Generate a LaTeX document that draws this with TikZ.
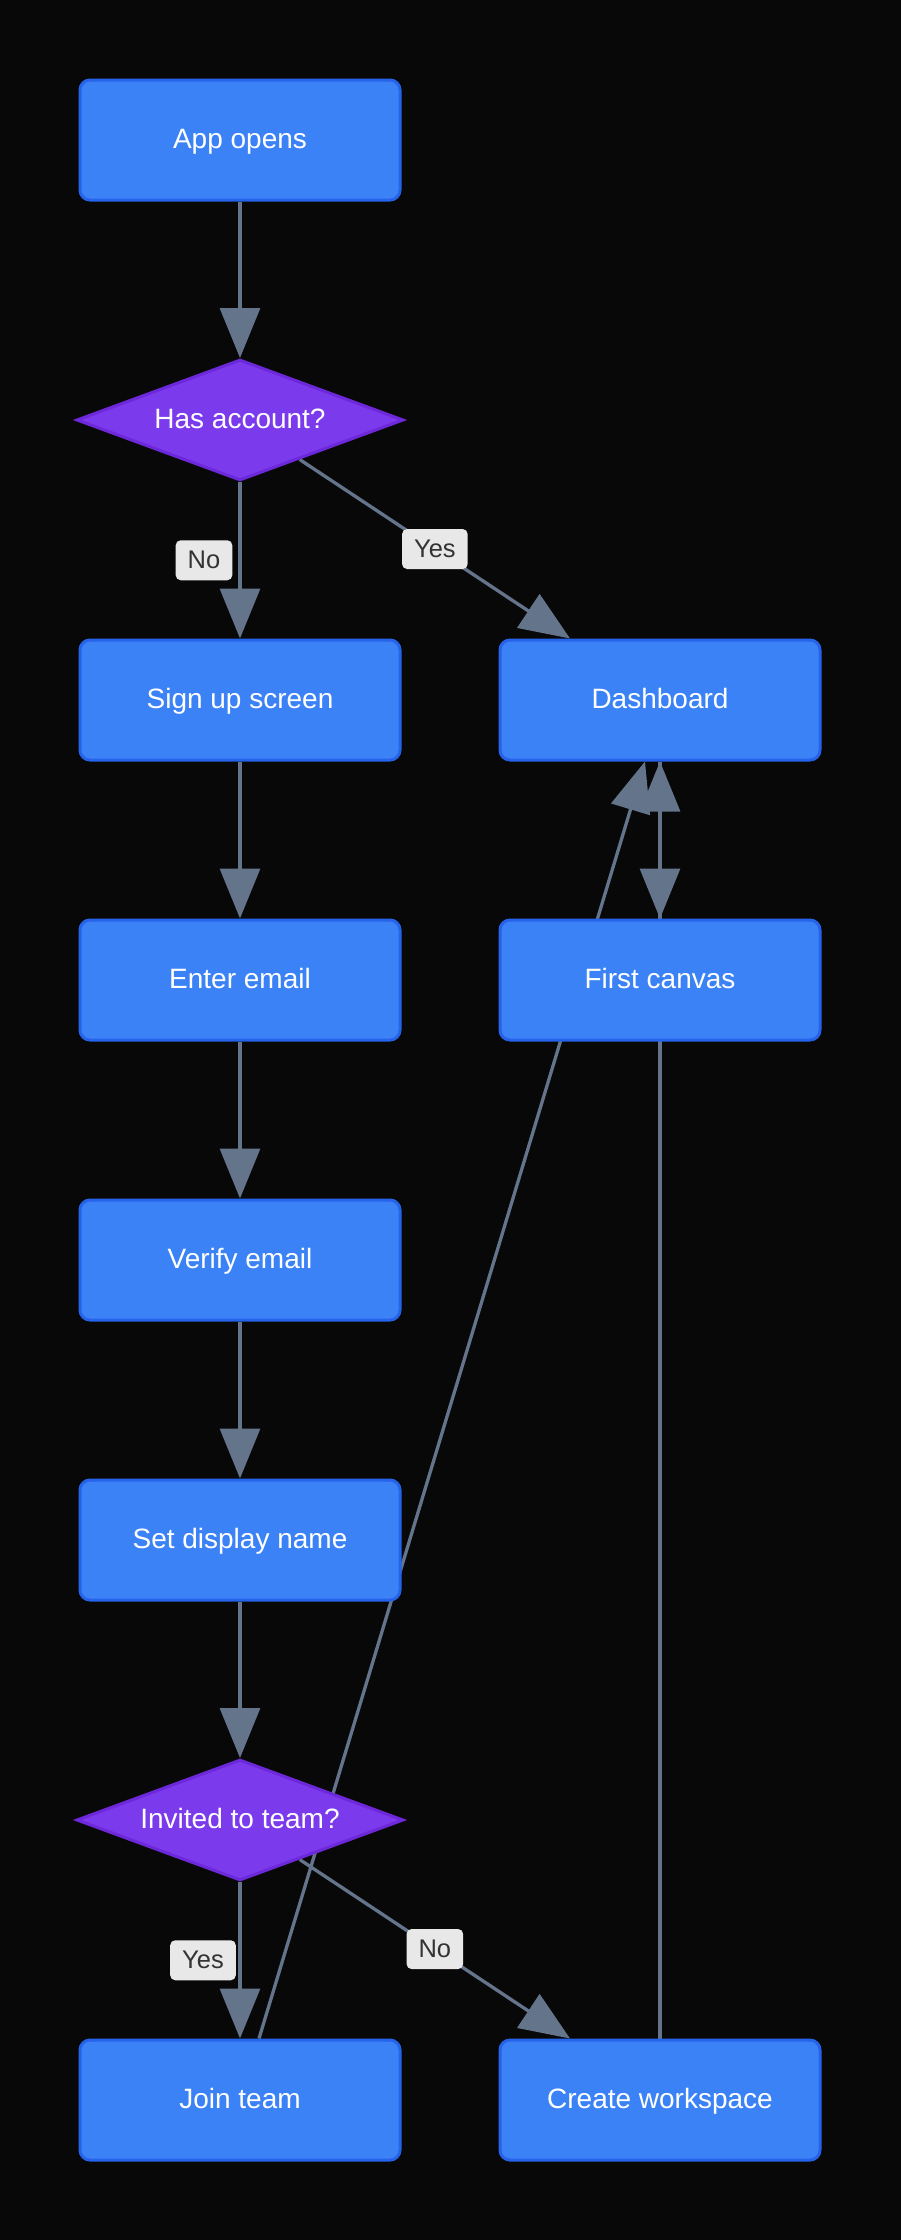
\documentclass[tikz,border=0pt]{standalone}
\usepackage{fontspec}
\setmainfont{Liberation Sans}
\usetikzlibrary{shapes.geometric,arrows.meta,calc,backgrounds}
\definecolor{bg}{HTML}{080808}
\definecolor{boxfill}{HTML}{3B82F6}
\definecolor{boxline}{HTML}{2563EB}
\definecolor{decfill}{HTML}{7C3AED}
\definecolor{decline}{HTML}{6D28D9}
\definecolor{edgec}{HTML}{64748B}
\definecolor{lblfill}{HTML}{E8E8E8}
\definecolor{lbltext}{HTML}{333333}
\begin{document}
\begin{tikzpicture}[x=1pt,y=-1pt,
 stepbox/.style={draw=boxline, fill=boxfill, line width=3pt, rounded corners=10pt,
   minimum width=320pt, minimum height=120pt, text=white,
   font=\fontsize{28}{32}\selectfont, inner sep=0pt, text height=20pt, text depth=4pt},
 decision/.style={diamond, aspect=2.7, draw=decline, fill=decfill, line width=3pt,
   minimum width=327pt, minimum height=121pt, inner sep=0pt, text=white,
   font=\fontsize{28}{32}\selectfont, text height=20pt, text depth=4pt},
 flow/.style={draw=edgec, line width=3.3pt, -{Triangle[length=50pt,width=40pt]}},
 elabel/.style={fill=lblfill, text=lbltext,
   rounded corners=5pt, font=\fontsize{25.5}{28}\selectfont, inner xsep=12pt,
   inner ysep=0pt, minimum height=40pt, text height=18pt, text depth=1.5pt}
]
\useasboundingbox (0,0) rectangle (900,2240);
\begin{pgfonlayer}{background}
\fill[bg] (-10,-10) rectangle (910,2250);
\end{pgfonlayer}

\node[stepbox] (ao) at (240,140) {App opens};
\node[decision] (ha) at (240,420) {Has account?};
\node[stepbox] (su) at (240,700) {Sign up screen};
\node[stepbox] (db) at (660,700) {Dashboard};
\node[stepbox] (ee) at (240,980) {Enter email};
\node[stepbox] (fc) at (660,980) {First canvas};
\node[stepbox] (ve) at (240,1260) {Verify email};
\node[stepbox] (sd) at (240,1540) {Set display name};
\node[decision] (it) at (240,1820) {Invited to team?};
\node[stepbox] (jt) at (240,2100) {Join team};
\node[stepbox] (cw) at (660,2100) {Create workspace};

\begin{pgfonlayer}{background}
\draw[flow] (ao) -- (ha);
\draw[flow] (ha) -- node[elabel, xshift=-36pt] {No} (su);
\draw[flow] (ha) -- node[elabel] {Yes} ($(db.north)+(-90,0)$);
\draw[flow] (su) -- (ee);
\draw[flow] (ee) -- (ve);
\draw[flow] (ve) -- (sd);
\draw[flow] (sd) -- (it);
\draw[flow] (it) -- node[elabel, xshift=-37pt] {Yes} (jt);
\draw[flow] (it) -- node[elabel] {No} ($(cw.north)+(-90,0)$);
\draw[flow] ($(jt.north)+(19,0)$) -- ($(db.south)+(-15,0)$);
\draw[flow] (cw) -- (db);
\draw[flow] (db) -- (fc);
\end{pgfonlayer}
\end{tikzpicture}
\end{document}
